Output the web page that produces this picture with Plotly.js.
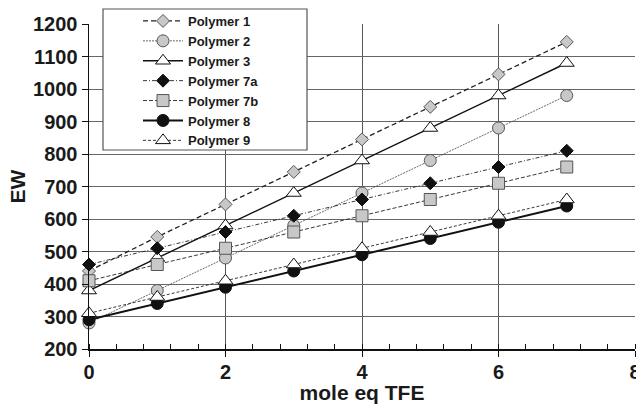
<!DOCTYPE html>
<html>
<head>
<meta charset="utf-8">
<script src="https://cdn.plot.ly/plotly-3.0.1.min.js"></script>
<style>html,body{margin:0;padding:0;background:#fff;}#chart{width:636px;height:404px;}</style>
</head>
<body>
<div id="chart"></div>
<script>
const moleEqTFE = [0, 1, 2, 3, 4, 5, 6, 7];
const seriesNames = ["Polymer 1", "Polymer 2", "Polymer 3", "Polymer 7a", "Polymer 7b", "Polymer 8", "Polymer 9"];
const polymer1 = [440, 545, 645, 745, 845, 945, 1045, 1145];
const polymer2 = [280, 380, 480, 580, 680, 780, 880, 980];
const polymer3 = [380, 480, 580, 680, 780, 880, 980, 1080];
const polymer7a = [460, 510, 560, 610, 660, 710, 760, 810];
const polymer7b = [410, 460, 510, 560, 610, 660, 710, 760];
const polymer8 = [290, 340, 390, 440, 490, 540, 590, 640];
const polymer9 = [310, 360, 410, 460, 510, 560, 610, 660];
const xTicks = [0, 2, 4, 6, 8];
const yTicks = [200, 300, 400, 500, 600, 700, 800, 900, 1000, 1100, 1200];

const seriesValues = [polymer1, polymer2, polymer3, polymer7a, polymer7b, polymer8, polymer9];
const styles = [
  {line: {color: '#222', width: 1.3, dash: '5px,3px'}, marker: {symbol: 'diamond', size: 10, color: '#c8c8c8', line: {color: '#555', width: 1}}},
  {line: {color: '#444', width: 0.8, dash: '2px,1px'}, marker: {symbol: 'circle', size: 12, color: '#c8c8c8', line: {color: '#555', width: 1}}},
  {line: {color: '#111', width: 1.4}, marker: {symbol: 'triangle-up', size: 13, color: '#fff', line: {color: '#111', width: 1}}},
  {line: {color: '#222', width: 0.9, dash: '4px,2px,1px,2px'}, marker: {symbol: 'diamond', size: 10, color: '#111', line: {color: '#111', width: 1}}},
  {line: {color: '#222', width: 0.9, dash: '4px,2px'}, marker: {symbol: 'square', size: 12, color: '#c8c8c8', line: {color: '#555', width: 1}}},
  {line: {color: '#111', width: 2}, marker: {symbol: 'circle', size: 12, color: '#111', line: {color: '#111', width: 1}}},
  {line: {color: '#222', width: 0.9, dash: '3px,2px'}, marker: {symbol: 'triangle-up', size: 13, color: '#fff', line: {color: '#111', width: 1}}}
];

const traces = seriesNames.map((name, i) => Object.assign({
  type: 'scatter', mode: 'lines+markers', name: name,
  x: moleEqTFE, y: seriesValues[i], cliponaxis: false
}, styles[i]));

const font = {family: 'Arial, "Liberation Sans", sans-serif', color: '#1a1a1a'};

const layout = {
  width: 636, height: 404,
  margin: {l: 89, r: 1, t: 24, b: 55},
  paper_bgcolor: '#fff', plot_bgcolor: '#fff',
  font: font,
  showlegend: true,
  legend: {
    x: (138 - 89) / 546, y: (349 - 6) / 325, xanchor: 'left', yanchor: 'top',
    bgcolor: 'rgba(0,0,0,0)', borderwidth: 0,
    font: {family: font.family, size: 13, color: '#1a1a1a', weight: 'bold'},
    itemwidth: 40, tracegroupgap: 0
  },
  shapes: [{
    type: 'rect', xref: 'paper', yref: 'paper',
    x0: (103 - 89) / 546, x1: (307 - 89) / 546,
    y0: (349 - 150) / 325, y1: (349 - 9) / 325,
    fillcolor: '#fff', line: {color: '#555', width: 1.2}, layer: 'above'
  }],
  xaxis: {
    range: [0, 8], tickvals: xTicks, ticktext: xTicks.map(String),
    showgrid: true, gridcolor: '#555', gridwidth: 1,
    showline: true, linecolor: '#111', linewidth: 1.5,
    ticks: 'outside', ticklen: 6, tickcolor: '#111', tickwidth: 1,
    minor: {dtick: 0.4, ticks: 'inside', ticklen: 5, tickcolor: '#111', showgrid: false},
    tickfont: {family: font.family, size: 20, color: '#1a1a1a', weight: 'bold'},
    ticklabeloverflow: 'allow', ticklabelstandoff: -2,
    zeroline: false,
    title: {text: 'mole eq TFE', font: {family: font.family, size: 21, color: '#1a1a1a', weight: 'bold'}, standoff: 5}
  },
  yaxis: {
    range: [200, 1200], tickvals: yTicks, ticktext: yTicks.map(String),
    showgrid: true, gridcolor: '#666', gridwidth: 1,
    showline: true, linecolor: '#111', linewidth: 1.5,
    ticks: 'outside', ticklen: 6, tickcolor: '#111',
    tickfont: {family: font.family, size: 20, color: '#1a1a1a', weight: 'bold'},
    zeroline: false,
    title: {text: 'EW', font: {family: font.family, size: 21, color: '#1a1a1a', weight: 'bold'}, standoff: 1}
  }
};

Plotly.newPlot('chart', traces, layout, {displayModeBar: false, staticPlot: true});
</script>
</body>
</html>
